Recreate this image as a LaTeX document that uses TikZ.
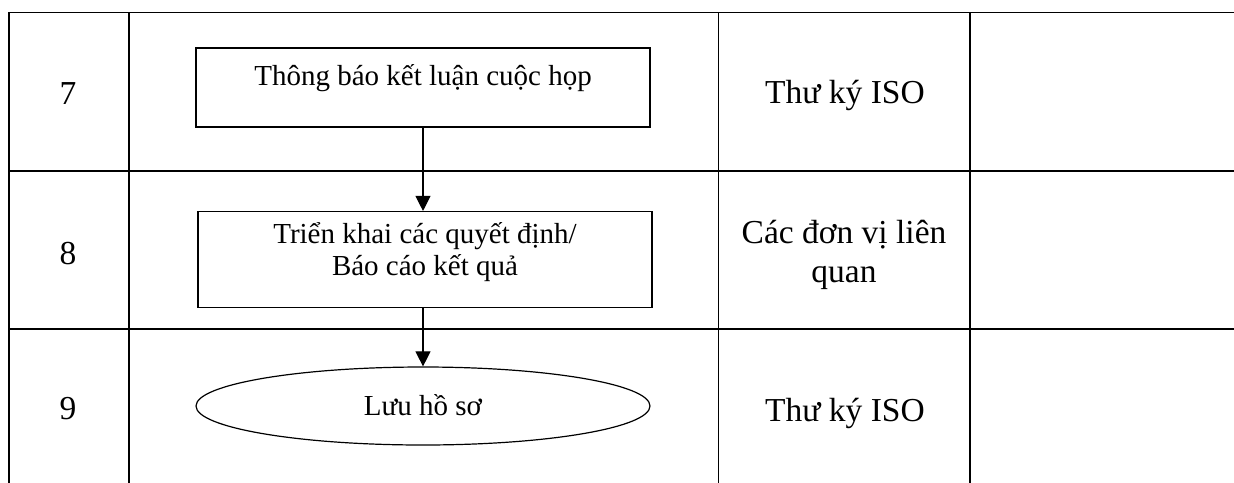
\documentclass[tikz,border=0pt]{standalone}
\usepackage{fontspec}
\setmainfont{Liberation Serif}
\usetikzlibrary{arrows.meta}
\tikzset{
  grid/.style={line width=0.7pt, line cap=rect},
  procbox/.style={draw, line width=0.55pt, rectangle, inner sep=0pt},
  termbox/.style={draw, line width=0.6pt, ellipse, inner sep=0pt},
  boxtext/.style={font=\fontsize{14.5pt}{16pt}\selectfont, inner sep=0pt, align=center},
  coltext/.style={font=\fontsize{16.75pt}{19.5pt}\selectfont, inner sep=0pt, align=center},
  flow/.style={line width=0.55pt, -{Triangle[length=7.5pt,width=7.5pt]}}
}
\usetikzlibrary{shapes.geometric}
\begin{document}
\begin{tikzpicture}[x=0.5pt,y=-0.5pt]
\useasboundingbox (0,0) rectangle (1234,482);
% table grid
\draw[grid] (1234,12.5) -- (9,12.5) -- (9,482);
\draw[grid] (129,12.5) -- (129,482);
\draw[grid] (718.5,12.5) -- (718.5,482);
\draw[grid] (970,12.5) -- (970,482);
\draw[grid] (9,171) -- (1234,171);
\draw[grid] (9,329) -- (1234,329);
% step numbers
\node[coltext, anchor=base] (n7) at (68,104) {7};
\node[coltext, anchor=base] (n8) at (68,264) {8};
\node[coltext, anchor=base] (n9) at (68,419) {9};
% flow shapes
\node[procbox, minimum width=227pt, minimum height=39.5pt] (b1) at (423,87.5) {};
\node[procbox, minimum width=227pt, minimum height=48pt] (b2) at (425,259.5) {};
\node[termbox, minimum width=227pt, minimum height=39pt] (e3) at (423,406) {};
\node[boxtext, anchor=base] (t1) at (423,85) {Thông báo kết luận cuộc họp};
\node[boxtext, anchor=base] (t2a) at (425,243) {Triển khai các quyết định/};
\node[boxtext, anchor=base] (t2b) at (425,275) {Báo cáo kết quả};
\node[boxtext, anchor=base] (t3) at (423,415) {Lưu hồ sơ};
% responsible
\node[coltext, anchor=base] (r7) at (845,103) {Thư ký ISO};
\node[coltext, anchor=base] (r8a) at (844,243) {Các đơn vị liên};
\node[coltext, anchor=base] (r8b) at (844,282) {quan};
\node[coltext, anchor=base] (r9) at (845,421) {Thư ký ISO};
% connectors
\draw[flow] (b1.south) -- (b1.south |- b2.north);
\draw[flow] (b1.south |- b2.south) -- (b1.south |- e3.north);
\end{tikzpicture}
\end{document}
